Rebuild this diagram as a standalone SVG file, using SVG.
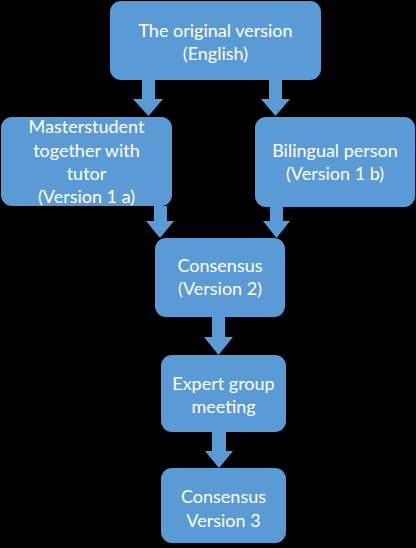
<svg xmlns="http://www.w3.org/2000/svg" width="416" height="548" viewBox="0 0 416 548">
<style>
.box{fill:#5B9BD5;}
.arr{fill:#5B9BD5;}
text{font-family:Lato,"Open Sans","Liberation Sans",sans-serif;font-size:18px;fill:#FFFFFF;text-anchor:middle;}
</style>
<rect x="0" y="0" width="416" height="548" fill="#000000"/>
<g id="connectors">
<polygon class="arr" points="142,80 155,80 155,99 163,99 148.5,116 133,99 142,99"/>
<polygon class="arr" points="269,80 282,80 282,99 290,99 275.5,116 261,99 269,99"/>
<polygon class="arr" points="154,206 167,206 167,221 174,221 160,238 146,221 154,221"/>
<polygon class="arr" points="270,207 283,207 283,221 290,221 276.5,238 263,221 270,221"/>
<polygon class="arr" points="212,317 225,317 225,337 233,337 218.5,355 204,337 212,337"/>
<polygon class="arr" points="212,432 226,432 226,451 233,451 219,468 205,451 212,451"/>
</g>
<g id="original">
<rect class="box" x="110" y="1" width="211" height="79" rx="11"/>
<text x="215.5" y="37">The original version</text>
<text x="215.5" y="60">(English)</text>
</g>
<g id="masterstudent">
<rect class="box" x="1" y="117" width="171" height="89" rx="11"/>
<text x="86.5" y="133">Masterstudent</text>
<text x="86.5" y="157">together with</text>
<text x="86.5" y="180">tutor</text>
<text x="86.5" y="203">(Version 1 a)</text>
</g>
<g id="bilingual">
<rect class="box" x="255" y="117" width="160" height="90" rx="11"/>
<text x="335" y="157">Bilingual person</text>
<text x="335" y="180">(Version 1 b)</text>
</g>
<g id="consensus2">
<rect class="box" x="155" y="238" width="130" height="79" rx="11"/>
<text x="220" y="272">Consensus</text>
<text x="220" y="295">(Version 2)</text>
</g>
<g id="expert">
<rect class="box" x="161" y="355" width="125" height="77" rx="11"/>
<text x="223.5" y="390">Expert group</text>
<text x="223.5" y="413">meeting</text>
</g>
<g id="consensus3">
<rect class="box" x="161" y="468" width="125" height="75" rx="11"/>
<text x="223.5" y="503">Consensus</text>
<text x="223.5" y="527">Version 3</text>
</g>
</svg>
